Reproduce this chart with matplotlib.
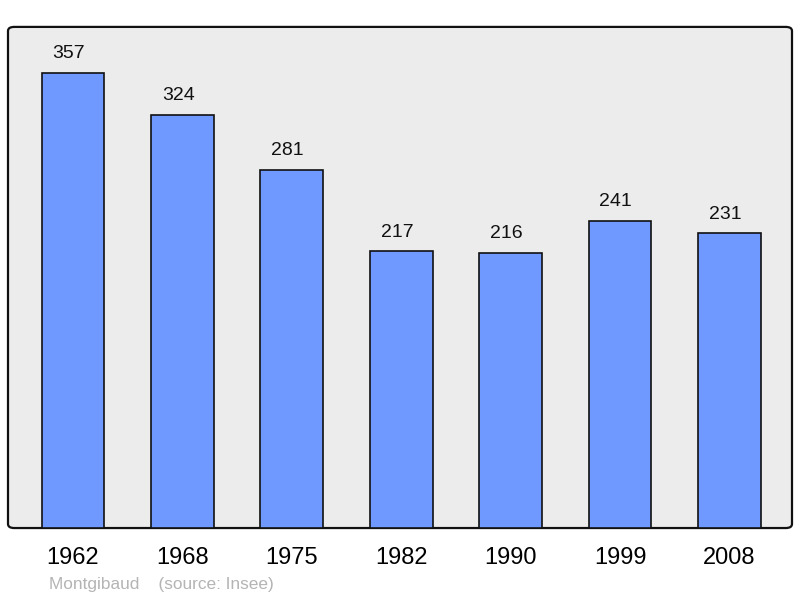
import matplotlib.pyplot as plt
from matplotlib.patches import FancyBboxPatch

# data
years = ['1962', '1968', '1975', '1982', '1990', '1999', '2008']
population = [357, 324, 281, 217, 216, 241, 231]

plt.rcParams['font.family'] = ['Liberation Sans', 'DejaVu Sans']

fig = plt.figure(figsize=(8, 5.98), dpi=100)
ax = fig.add_axes([0.01, 0.117, 0.98, 0.838])
ax.set_facecolor('none')

# rounded frame for the plot area
frame = FancyBboxPatch((0, 0), 1, 1, boxstyle='round,pad=0,rounding_size=0.008',
                       transform=ax.transAxes, facecolor='#ececec', edgecolor='#111111',
                       linewidth=1.6, zorder=0, clip_on=False)
ax.add_patch(frame)

x = range(len(years))
bars = ax.bar(x, population, width=0.575, color='#7099ff', edgecolor='#111111',
              linewidth=1.2, zorder=2)

for xi, val in zip(x, population):
    ax.annotate(str(val), (xi, val), xytext=(-3, 7.5), textcoords='offset points',
                ha='center', va='bottom', fontsize=14, color='#111111')

ax.set_xlim(-0.594, 6.572)
ax.set_ylim(0, 393)
ax.set_xticks(list(x))
ax.set_xticklabels(years, fontsize=17)
ax.tick_params(axis='x', length=0, pad=13.5)
ax.set_yticks([])
for s in ax.spines.values():
    s.set_visible(False)

fig.text(49 / 800, 1 - 585 / 598, 'Montgibaud    (source: Insee)', fontsize=12.4,
         color='#b4b4b4', ha='left', va='center')

fig.savefig('out.png', dpi=100)
